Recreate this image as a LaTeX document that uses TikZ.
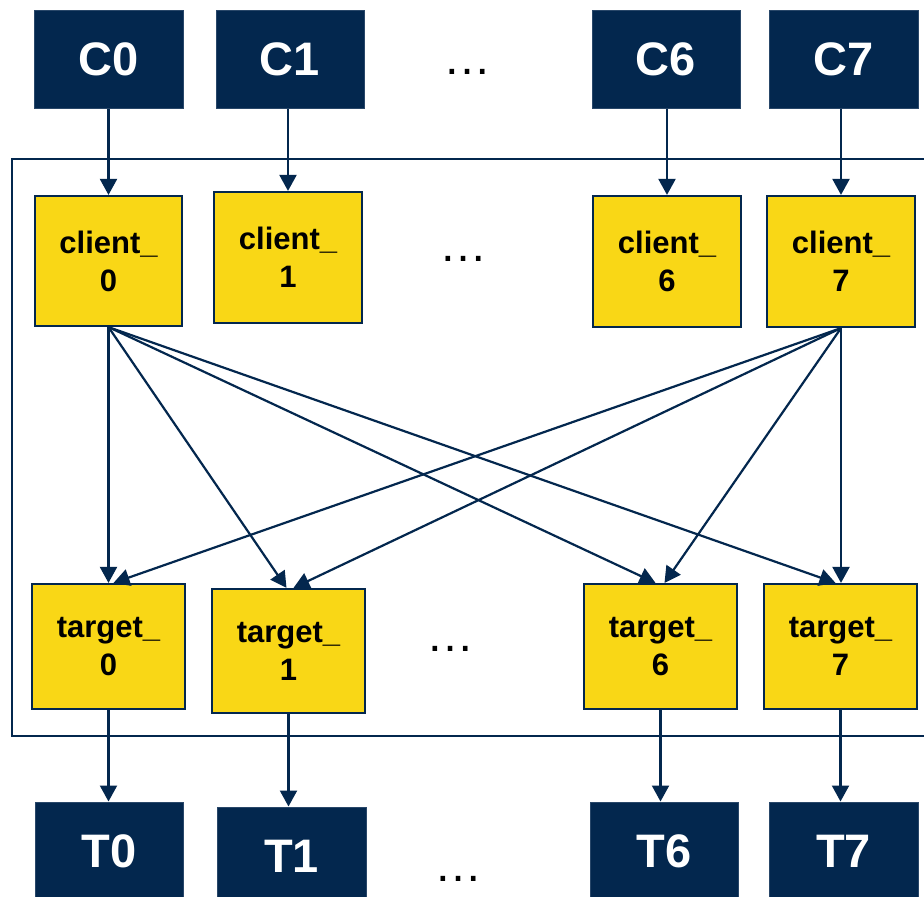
\documentclass[tikz,border=0pt]{standalone}
\usepackage{fontspec}
\setmainfont{Liberation Sans}
\usetikzlibrary{arrows.meta}
\definecolor{navy}{RGB}{3,39,78}
\definecolor{gold}{RGB}{249,215,22}
\tikzset{
  ext/.style={draw=navy!85!white, line width=1pt, fill=navy, text=white,
    font=\fontsize{47}{52}\selectfont\bfseries, inner sep=0pt},
  inner/.style={draw=navy, line width=2.2pt, fill=gold, text=black,
    font=\fontsize{31}{38}\selectfont\bfseries, align=center, inner sep=0pt},
  link/.style={draw=navy, line width=2.2pt, -{Triangle[width=17pt,length=16pt]}},
  dots/.style={anchor=base, font=\fontsize{48}{52}\selectfont, inner sep=0pt}
}
\begin{document}
\begin{tikzpicture}[x=1pt,y=-1pt]
\clip (0,0) rectangle (924,897);
\fill[white] (0,0) rectangle (924,897);

% enclosing frame (runs past the right edge)
\draw[navy, line width=2.2pt] (930,159) -- (12,159) -- (12,736) -- (930,736);

% external clients
\node[ext, minimum width=149pt, minimum height=98pt] (C0) at (108.5,59) {C0};
\node[ext, minimum width=148pt, minimum height=98pt] (C1) at (290,59) {C1};
\node[ext, minimum width=148pt, minimum height=98pt] (C6) at (666,59) {C6};
\node[ext, minimum width=149pt, minimum height=98pt] (C7) at (843.5,59) {C7};
\node[dots] (dA) at (467,74) {…};

% client endpoints
\node[inner, minimum width=147pt, minimum height=130pt] (cl0) at (108.5,261) {client\_\\0};
\node[inner, minimum width=148pt, minimum height=131pt] (cl1) at (288,257.5) {client\_\\1};
\node[inner, minimum width=148pt, minimum height=131pt] (cl6) at (667,261.5) {client\_\\6};
\node[inner, minimum width=148pt, minimum height=131pt] (cl7) at (841,261.5) {client\_\\7};
\node[dots] (dB) at (463,261) {…};

% target endpoints
\node[inner, minimum width=153pt, minimum height=125pt] (tg0) at (108.5,646.5) {target\_\\0};
\node[inner, minimum width=153pt, minimum height=124pt] (tg1) at (288.5,651) {target\_\\1};
\node[inner, minimum width=153pt, minimum height=125pt] (tg6) at (660.5,646.5) {target\_\\6};
\node[inner, minimum width=153pt, minimum height=125pt] (tg7) at (840.5,646.5) {target\_\\7};
\node[dots] (dC) at (450,651) {…};

% external targets
\node[ext, minimum width=148pt, minimum height=98pt] (T0) at (109,851) {T0};
\node[ext, minimum width=149pt, minimum height=98pt] (T1) at (291.5,856) {T1};
\node[ext, minimum width=148pt, minimum height=98pt] (T6) at (664,851) {T6};
\node[ext, minimum width=149pt, minimum height=98pt] (T7) at (843.5,851) {T7};
\node[dots] (dD) at (458,881) {…};

% inputs
\draw[link] (C0.south) -- (C0.south |- cl0.north);
\draw[link] (C1.south -| cl1.north) -- (cl1.north);
\draw[link] (C6.south -| cl6.north) -- (cl6.north);
\draw[link] (C7.south -| cl7.north) -- (cl7.north);

% fan-out from client_0
\draw[link] (cl0.south) -- (tg0.north);
\draw[link] (cl0.south) -- ([xshift=-2pt]tg1.north);
\draw[link] (cl0.south) -- ([xshift=-5pt]tg6.north);
\draw[link] (cl0.south) -- ([xshift=-5pt]tg7.north);

% fan-out from client_7
\draw[link] (cl7.south) -- ([xshift=5pt]tg0.north);
\draw[link] (cl7.south) -- ([xshift=5pt]tg1.north);
\draw[link] (cl7.south) -- ([xshift=4pt]tg6.north);
\draw[link] (cl7.south) -- (cl7.south |- tg7.north);

% outputs
\draw[link] (tg0.south) -- (tg0.south |- T0.north);
\draw[link] (tg1.south) -- (tg1.south |- T1.north);
\draw[link] (tg6.south) -- (tg6.south |- T6.north);
\draw[link] (tg7.south) -- (tg7.south |- T7.north);
\end{tikzpicture}
\end{document}
